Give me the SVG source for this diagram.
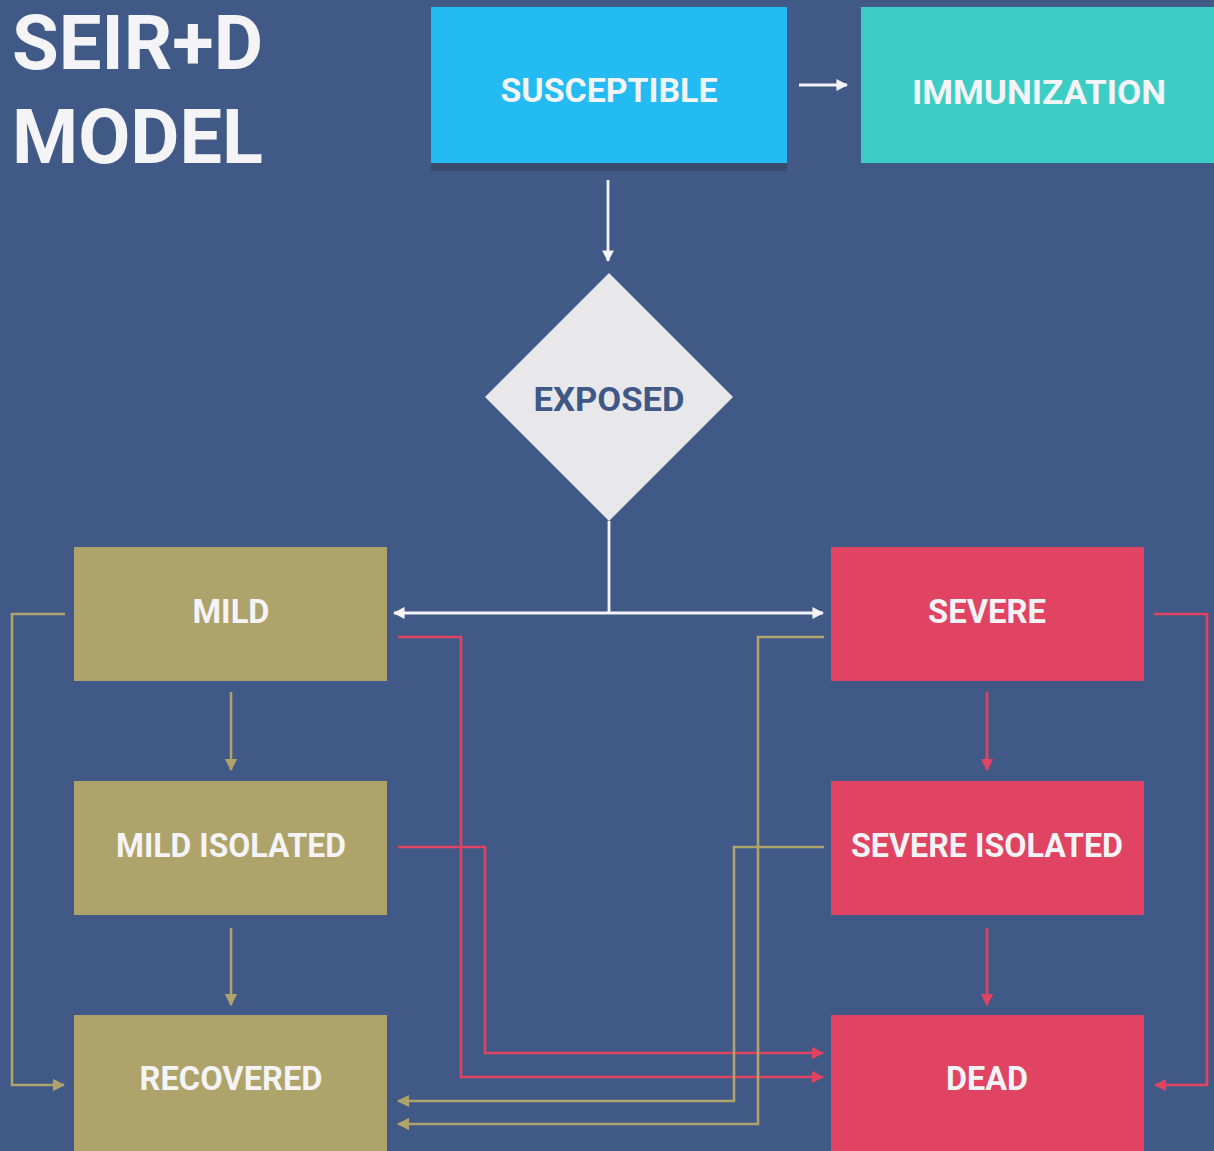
<svg xmlns="http://www.w3.org/2000/svg" width="1214" height="1151" viewBox="0 0 1214 1151">
<defs>
<style>
.t{font-family:Roboto,"Liberation Sans",sans-serif;font-weight:bold;fill:#f4f4f6;text-anchor:middle;font-size:33px}
.title{font-family:Roboto,"Liberation Sans",sans-serif;font-weight:bold;fill:#f4f4f6;font-size:76px}
.w{stroke:#f4f4f6;stroke-width:2.8;fill:none}
.k{stroke:#aea36a;stroke-width:2.6;fill:none}
.r{stroke:#e04462;stroke-width:2.6;fill:none}
</style>
<marker id="aw" viewBox="0 0 10 10" refX="9" refY="5" markerWidth="4.2" markerHeight="4.2" markerUnits="strokeWidth" orient="auto-start-reverse"><path d="M0,0L10,5L0,10z" fill="#f4f4f6"/></marker>
<marker id="ak" viewBox="0 0 10 10" refX="9" refY="5" markerWidth="4.8" markerHeight="4.8" markerUnits="strokeWidth" orient="auto-start-reverse"><path d="M0,0L10,5L0,10z" fill="#aea36a"/></marker>
<marker id="ar" viewBox="0 0 10 10" refX="9" refY="5" markerWidth="4.8" markerHeight="4.8" markerUnits="strokeWidth" orient="auto-start-reverse"><path d="M0,0L10,5L0,10z" fill="#e04462"/></marker>
</defs>
<rect width="1214" height="1151" fill="#405987"/>
<g id="title">
<text class="title" x="12" y="69" textLength="251" lengthAdjust="spacingAndGlyphs">SEIR+D</text>
<text class="title" x="12" y="163" textLength="251" lengthAdjust="spacingAndGlyphs">MODEL</text>
</g>
<g id="connectors">
<line class="w" x1="799" y1="85" x2="847" y2="85" marker-end="url(#aw)"/>
<line class="w" x1="608" y1="180" x2="608" y2="261" marker-end="url(#aw)"/>
<line class="w" x1="609" y1="521" x2="609" y2="613"/>
<line class="w" x1="394" y1="613" x2="823" y2="613" marker-start="url(#aw)" marker-end="url(#aw)"/>
<line class="k" x1="231" y1="692" x2="231" y2="770" marker-end="url(#ak)"/>
<line class="k" x1="231" y1="928" x2="231" y2="1005" marker-end="url(#ak)"/>
<line class="r" x1="987" y1="692" x2="987" y2="770" marker-end="url(#ar)"/>
<line class="r" x1="987" y1="928" x2="987" y2="1005" marker-end="url(#ar)"/>
<polyline class="k" points="65,614 12,614 12,1085 64,1085" marker-end="url(#ak)"/>
<polyline class="r" points="398,637 461,637 461,1077 823,1077" marker-end="url(#ar)"/>
<polyline class="r" points="398,847 485,847 485,1053 823,1053" marker-end="url(#ar)"/>
<polyline class="k" points="824,637 758,637 758,1124 398,1124" marker-end="url(#ak)"/>
<polyline class="k" points="824,847 734,847 734,1101 398,1101" marker-end="url(#ak)"/>
<polyline class="r" points="1154,614 1207,614 1207,1085 1155,1085" marker-end="url(#ar)"/>
</g>
<g id="susceptible">
<rect x="431" y="163" width="356" height="8" fill="#3a4b6d"/>
<rect x="431" y="7" width="356" height="156" fill="#23bbf2"/>
<text class="t" x="609" y="102" textLength="217" lengthAdjust="spacingAndGlyphs">SUSCEPTIBLE</text>
</g>
<g id="immunization">
<rect x="861" y="7" width="353" height="156" fill="#3ccdc5"/>
<text class="t" x="1039" y="104" textLength="254" lengthAdjust="spacingAndGlyphs">IMMUNIZATION</text>
</g>
<g id="exposed">
<polygon points="609,273 733,397 609,521 485,397" fill="#e8e8ea"/>
<text class="t" x="609" y="411" style="fill:#3f5886" textLength="151" lengthAdjust="spacingAndGlyphs">EXPOSED</text>
</g>
<g id="mild">
<rect x="74" y="547" width="313" height="134" fill="#aea36a"/>
<text class="t" x="231" y="623" textLength="77" lengthAdjust="spacingAndGlyphs">MILD</text>
</g>
<g id="mild-isolated">
<rect x="74" y="781" width="313" height="134" fill="#aea36a"/>
<text class="t" x="231" y="857" textLength="230" lengthAdjust="spacingAndGlyphs">MILD ISOLATED</text>
</g>
<g id="recovered">
<rect x="74" y="1015" width="313" height="136" fill="#aea36a"/>
<text class="t" x="231" y="1090" textLength="183" lengthAdjust="spacingAndGlyphs">RECOVERED</text>
</g>
<g id="severe">
<rect x="831" y="547" width="313" height="134" fill="#e04462"/>
<text class="t" x="987" y="623" textLength="118" lengthAdjust="spacingAndGlyphs">SEVERE</text>
</g>
<g id="severe-isolated">
<rect x="831" y="781" width="313" height="134" fill="#e04462"/>
<text class="t" x="987" y="857" textLength="272" lengthAdjust="spacingAndGlyphs">SEVERE ISOLATED</text>
</g>
<g id="dead">
<rect x="831" y="1015" width="313" height="136" fill="#e04462"/>
<text class="t" x="987" y="1090" textLength="82" lengthAdjust="spacingAndGlyphs">DEAD</text>
</g>
</svg>
